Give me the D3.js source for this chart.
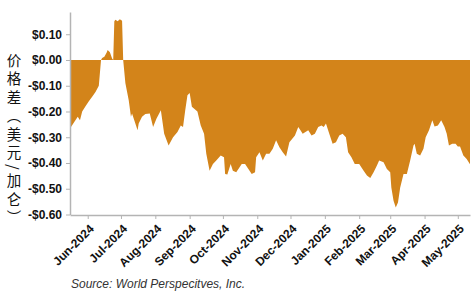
<!DOCTYPE html>
<html>
<head>
<meta charset="utf-8">
<script src="https://cdn.jsdelivr.net/npm/d3@7"></script>
<style>
  body { margin: 0; background: #fff; }
  svg { display: block; }
  .axis text { font-family: "Liberation Sans", Arial, sans-serif; font-weight: bold; font-size: 12px; fill: #111; }
  .axis path, .axis line { stroke: #b4b4b4; }
</style>
</head>
<body>
<svg id="chart" width="471" height="301"></svg>
<script>
// ---- Data ----
const dates = [
  "2024-05-16","2024-05-20","2024-05-23","2024-05-25","2024-05-27","2024-05-30",
  "2024-06-02","2024-06-05","2024-06-08","2024-06-11","2024-06-13","2024-06-14",
  "2024-06-16","2024-06-18","2024-06-19","2024-06-21","2024-06-23","2024-06-24",
  "2024-06-25","2024-06-26","2024-06-28","2024-06-30","2024-07-02","2024-07-03",
  "2024-07-05","2024-07-08","2024-07-10","2024-07-11","2024-07-13","2024-07-16",
  "2024-07-17","2024-07-20","2024-07-23","2024-07-27","2024-07-30","2024-08-02",
  "2024-08-06","2024-08-09","2024-08-13","2024-08-17","2024-08-21","2024-08-24",
  "2024-08-26","2024-08-28","2024-08-30","2024-09-01","2024-09-03","2024-09-08",
  "2024-09-11","2024-09-14","2024-09-16","2024-09-19","2024-09-22","2024-09-25",
  "2024-09-29","2024-10-02","2024-10-03","2024-10-05","2024-10-08","2024-10-10",
  "2024-10-13","2024-10-15","2024-10-18","2024-10-21","2024-10-24","2024-10-27",
  "2024-10-30","2024-10-31","2024-11-03","2024-11-06","2024-11-09","2024-11-12",
  "2024-11-15","2024-11-18","2024-11-21","2024-11-24","2024-11-27","2024-11-30",
  "2024-12-05","2024-12-08","2024-12-10","2024-12-12","2024-12-17","2024-12-20",
  "2024-12-23","2024-12-26","2024-12-29","2024-12-31","2025-01-02","2025-01-05",
  "2025-01-08","2025-01-11","2025-01-14","2025-01-17","2025-01-20","2025-01-22",
  "2025-01-25","2025-01-28","2025-02-01","2025-02-05","2025-02-08","2025-02-11",
  "2025-02-14","2025-02-17","2025-02-19","2025-02-23","2025-02-26","2025-03-01",
  "2025-03-02","2025-03-04","2025-03-06","2025-03-08","2025-03-10","2025-03-13",
  "2025-03-16","2025-03-19","2025-03-22","2025-03-23","2025-03-25","2025-03-28",
  "2025-03-31","2025-04-02","2025-04-05","2025-04-08","2025-04-10","2025-04-13",
  "2025-04-16","2025-04-19","2025-04-21","2025-04-23","2025-04-26","2025-04-29",
  "2025-05-01","2025-05-03","2025-05-06","2025-05-09","2025-05-12"
];
const spread = [
  -0.266,-0.240,-0.220,-0.234,-0.200,-0.180,
  -0.160,-0.143,-0.124,-0.100,0.000,0.008,
  0.013,0.028,0.039,0.030,0.006,0.000,
  0.150,0.156,0.150,0.158,0.152,0.000,
  -0.090,-0.156,-0.220,-0.208,-0.234,-0.273,
  -0.247,-0.220,-0.210,-0.208,-0.260,-0.228,
  -0.195,-0.286,-0.332,-0.300,-0.280,-0.254,
  -0.260,-0.195,-0.137,-0.128,-0.182,-0.200,
  -0.254,-0.286,-0.364,-0.430,-0.404,-0.390,
  -0.371,-0.378,-0.443,-0.445,-0.404,-0.430,
  -0.436,-0.423,-0.404,-0.404,-0.423,-0.443,
  -0.436,-0.378,-0.358,-0.390,-0.364,-0.364,
  -0.345,-0.312,-0.339,-0.358,-0.375,-0.319,
  -0.293,-0.260,-0.273,-0.286,-0.273,-0.293,
  -0.286,-0.260,-0.254,-0.260,-0.247,-0.286,
  -0.325,-0.319,-0.293,-0.286,-0.300,-0.358,
  -0.378,-0.404,-0.404,-0.430,-0.449,-0.458,
  -0.436,-0.410,-0.390,-0.397,-0.423,-0.436,
  -0.495,-0.547,-0.573,-0.553,-0.495,-0.443,
  -0.443,-0.390,-0.332,-0.325,-0.364,-0.371,
  -0.345,-0.300,-0.273,-0.234,-0.258,-0.254,
  -0.234,-0.260,-0.286,-0.332,-0.325,-0.325,
  -0.336,-0.336,-0.371,-0.384,-0.405
];
const yTicks = [0.10, 0.00, -0.10, -0.20, -0.30, -0.40, -0.50, -0.60];
const xTickMonths = ["2024-06-01","2024-07-01","2024-08-01","2024-09-01","2024-10-01",
  "2024-11-01","2024-12-01","2025-01-01","2025-02-01","2025-03-01","2025-04-01","2025-05-01"];
const yTitle = "价格差（美元/加仑）";
const sourceNote = "Source: World Perspecitves, Inc.";

// ---- Layout ----
const parse = d3.timeParse("%Y-%m-%d");
const data = dates.map((d, i) => ({date: parse(d), v: spread[i]}));

const plotLeft = 70, plotRight = 470, plotTop = 12, plotBottom = 215;
const svg = d3.select("#chart");

const x = d3.scaleTime()
    .domain([parse("2024-05-16"), parse("2025-05-12")])
    .range([plotLeft, plotRight]);
const y = d3.scaleLinear()
    .domain([-0.6, 0.1864])
    .range([plotBottom - 0.5, plotTop]);

// Filled area between zero and the spread
const area = d3.area()
    .x(d => x(d.date))
    .y0(y(0))
    .y1(d => y(d.v));
svg.append("path")
    .datum(data)
    .attr("fill", "#d3841a")
    .attr("d", area);

// Y axis
const fmt = v => (v < 0 ? "-$" : "$") + Math.abs(v).toFixed(2);
const yAxis = svg.append("g")
    .attr("class", "axis")
    .attr("transform", `translate(${plotLeft},0)`)
    .call(d3.axisLeft(y).tickValues(yTicks).tickFormat(fmt).tickSize(4).tickPadding(4).tickSizeOuter(0));
yAxis.select(".domain").attr("stroke-width", 1.5);

// X axis
const xAxis = svg.append("g")
    .attr("class", "axis")
    .attr("transform", `translate(0,${plotBottom})`)
    .call(d3.axisBottom(x).tickValues(xTickMonths.map(parse))
        .tickFormat(d3.timeFormat("%b-%Y")).tickSize(4).tickSizeOuter(0));
xAxis.select(".domain").attr("stroke-width", 1.5);
xAxis.selectAll("text")
    .attr("text-anchor", "end")
    .attr("y", 0).attr("dy", 0)
    .attr("transform", "translate(6.5,14.5) rotate(-45)");

// Vertical Chinese axis title, set in vertical writing mode
svg.append("text")
    .attr("x", 14)
    .attr("y", 53)
    .style("writing-mode", "vertical-rl")
    .style("text-spacing-trim", "space-all")
    .style("font-family", "'Noto Sans CJK SC', sans-serif")
    .style("font-size", "14.5px")
    .style("letter-spacing", "4px")
    .attr("fill", "#111")
    .text(yTitle);

// Source note
svg.append("text")
    .attr("x", 71)
    .attr("y", 288)
    .style("font-family", "'Liberation Sans', Arial, sans-serif")
    .style("font-style", "italic")
    .style("font-size", "12px")
    .attr("fill", "#333")
    .text(sourceNote);
</script>
</body>
</html>
